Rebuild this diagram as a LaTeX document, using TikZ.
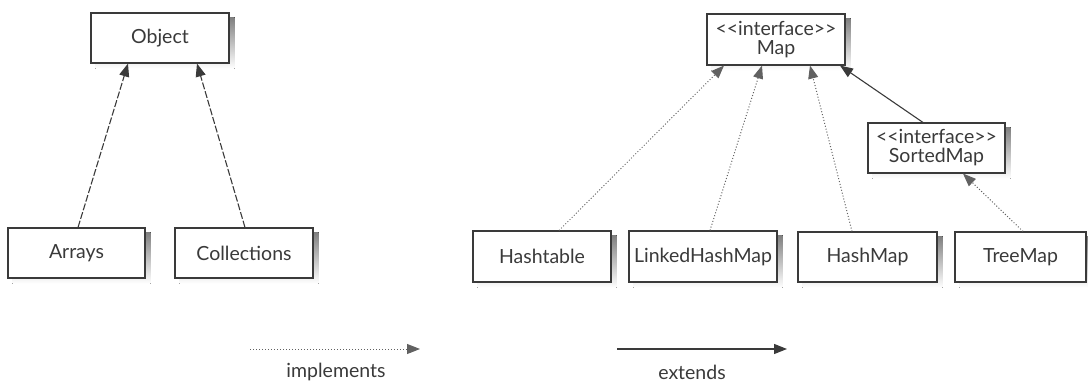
\documentclass[tikz,border=0pt]{standalone}
\usepackage{fontspec}
\setmainfont{Lato}
\usetikzlibrary{arrows.meta,backgrounds}
\definecolor{ink}{HTML}{3A3A3A}
\definecolor{shade}{HTML}{CDCDCD}
\newcommand{\iface}{<\kern0pt<interface>\kern0pt>}
\newcommand{\shadowof}[1]{\fill[shade] ([xshift=5pt,yshift=-5pt]#1.south west) rectangle ([xshift=5pt,yshift=-5pt]#1.north east);}
\tikzset{
  cls/.style={draw=ink, line width=1.1pt, fill=white, text=ink, minimum height=50pt,
    inner sep=0pt, align=center, font=\fontsize{19.5}{20}\selectfont},
  tip/.style={-{Triangle[length=13pt,width=10pt]}},
  ext/.style={tip, draw=ink, line width=1.1pt},
  extdash/.style={tip, draw=ink, line width=1.1pt, dash pattern=on 7pt off 2pt},
  impl/.style={tip, draw=ink!80, line width=1pt, dash pattern=on 1pt off 2pt},
  lbl/.style={text=ink, font=\fontsize{19.5}{20}\selectfont},
}
\begin{document}
\begin{tikzpicture}[x=1pt,y=-1pt]
\useasboundingbox (0,0) rectangle (1088,383);
% left group
\node[cls, minimum width=138pt] (obj) at (160,38) {Object};
\node[cls, minimum width=137pt] (arr) at (76.5,253) {Arrays};
\node[cls, minimum width=138pt] (col) at (244,253) {Collections};
% right group
\node[cls, minimum width=138pt, minimum height=51pt] (map) at (776,39.5) {\iface\\[-1pt]Map};
\node[cls, minimum width=137pt] (smap) at (936.5,148) {\iface\\[-1pt]SortedMap};
\node[cls, minimum width=138pt, minimum height=51pt] (htab) at (542,256.5) {Hashtable};
\node[cls, minimum width=148pt, minimum height=51pt] (lhm) at (703,256.5) {LinkedHashMap};
\node[cls, minimum width=139pt] (hm) at (867.5,257) {HashMap};
\node[cls, minimum width=131pt] (tm) at (1020.5,257) {TreeMap};
\begin{pgfonlayer}{background}
\shadowof{obj}\shadowof{arr}\shadowof{col}\shadowof{map}\shadowof{smap}
\shadowof{htab}\shadowof{lhm}\shadowof{hm}\shadowof{tm}
\end{pgfonlayer}
% connectors
\draw[extdash] ([xshift=1.5pt]arr.north) -- ([xshift=-32pt]obj.south);
\draw[extdash] ([xshift=1pt]col.north) -- ([xshift=37pt]obj.south);
\draw[impl] ([xshift=17pt]htab.north) -- ([xshift=-52pt]map.south);
\draw[impl] ([xshift=7pt]lhm.north) -- ([xshift=-14pt]map.south);
\draw[impl] ([xshift=-15.5pt]hm.north) -- ([xshift=34pt]map.south);
\draw[ext] ([xshift=-13.5pt]smap.north) -- ([xshift=64pt]map.south);
\draw[impl] ([xshift=2.5pt]tm.north) -- ([xshift=26.5pt]smap.south);
% legend
\coordinate (ia) at (250,349);
\coordinate (ib) at (420,349);
\coordinate (ea) at (617,349);
\coordinate (eb) at (787,349);
\draw[impl] (ia) -- (ib);
\draw[ext] (ea) -- (eb);
\node[lbl] (il) at (336,372) {implements};
\node[lbl] (el) at (692,372) {extends};
\end{tikzpicture}
\end{document}
